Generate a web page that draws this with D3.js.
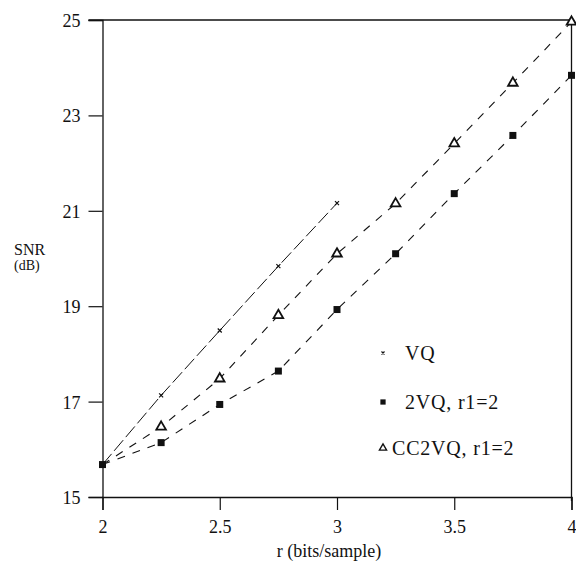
<!DOCTYPE html>
<html>
<head>
<meta charset="utf-8">
<script src="https://cdn.jsdelivr.net/npm/d3@7"></script>
<style>
  body { margin: 0; background: #fff; }
</style>
</head>
<body>
<div id="chart-container"></div>
<script>
// data
const rVQ = [2, 2.25, 2.5, 2.75, 3];
const snrVQ = [15.68, 17.13, 18.49, 19.84, 21.16];
const rTwoStage = [2, 2.25, 2.5, 2.75, 3, 3.25, 3.5, 3.75, 4];
const snr2VQ = [15.68, 16.14, 16.94, 17.64, 18.93, 20.10, 21.36, 22.58, 23.84];
const snrCC2VQ = [15.68, 16.47, 17.48, 18.81, 20.10, 21.15, 22.41, 23.68, 24.96];
const xTicks = [2, 2.5, 3, 3.5, 4];
const yTicks = [15, 17, 19, 21, 23, 25];
const legendLabels = ["VQ", "2VQ, r1=2", "CC2VQ, r1=2"];

const width = 576, height = 566;
const marginLeft = 102.5, marginRight = 4.5, marginTop = 20, marginBottom = 69;
const graphWidth = width - marginLeft - marginRight;
const graphHeight = height - marginTop - marginBottom;
const font = "'Liberation Serif', 'DejaVu Serif', serif";
const ink = "#111";

var svg = d3.select("#chart-container")
  .append("svg")
  .attr("width", width)
  .attr("height", height)
  .append("g")
  .attr("transform", "translate(" + marginLeft + "," + marginTop + ")");

var x = d3.scaleLinear().domain([2, 4]).range([0, graphWidth]);
var y = d3.scaleLinear().domain([15, 25]).range([graphHeight, 0]);

// frame (top + right)
svg.append("line").attr("x1", -14).attr("x2", graphWidth).attr("y1", 0).attr("y2", 0)
  .attr("stroke", ink).attr("stroke-width", 1.3);
svg.append("line").attr("x1", graphWidth).attr("x2", graphWidth).attr("y1", 0).attr("y2", graphHeight + 4)
  .attr("stroke", ink).attr("stroke-width", 1.3);

// axes
var xAxis = svg.append("g")
  .attr("transform", "translate(0," + graphHeight + ")")
  .call(d3.axisBottom(x).tickValues(xTicks).tickSize(13).tickPadding(10).tickFormat(d3.format("")));
var yAxis = svg.append("g")
  .call(d3.axisLeft(y).tickValues(yTicks).tickSize(14).tickPadding(8).tickFormat(d3.format("d")));

[xAxis, yAxis].forEach(a => {
  a.select(".domain").attr("stroke", ink).attr("stroke-width", 1.3);
  a.selectAll(".tick line").attr("stroke", ink).attr("stroke-width", 1.2);
  a.selectAll("text")
    .style("font-family", font)
    .style("font-size", "18px")
    .attr("fill", ink);
});
yAxis.selectAll("text").attr("dy", "0.36em");

// axis titles
svg.append("text")
  .attr("x", graphWidth / 2 - 8)
  .attr("y", graphHeight + 60)
  .style("font-family", font)
  .style("font-size", "18px")
  .style("text-anchor", "middle")
  .attr("fill", ink)
  .text("r (bits/sample)");

svg.append("text")
  .attr("x", 14 - marginLeft)
  .attr("y", 255 - marginTop)
  .style("font-family", font)
  .style("font-size", "16px")
  .attr("fill", ink)
  .text("SNR");
svg.append("text")
  .attr("x", 14 - marginLeft)
  .attr("y", 270 - marginTop)
  .style("font-family", font)
  .style("font-size", "14px")
  .attr("fill", ink)
  .text("(dB)");

// curves
var line = d3.line()
  .x(d => x(d[0]))
  .y(d => y(d[1]));

const vqPts = rVQ.map((r, i) => [r, snrVQ[i]]);
const twoPts = rTwoStage.map((r, i) => [r, snr2VQ[i]]);
const ccPts = rTwoStage.map((r, i) => [r, snrCC2VQ[i]]);

svg.append("path").datum(vqPts)
  .attr("d", line)
  .attr("fill", "none")
  .attr("stroke", ink)
  .attr("stroke-width", 1)
  .attr("stroke-dasharray", "14,4");

svg.append("path").datum(twoPts)
  .attr("d", line)
  .attr("fill", "none")
  .attr("stroke", ink)
  .attr("stroke-width", 1.1)
  .attr("stroke-dasharray", "8,8");

svg.append("path").datum(ccPts)
  .attr("d", line)
  .attr("fill", "none")
  .attr("stroke", ink)
  .attr("stroke-width", 1.1)
  .attr("stroke-dasharray", "8,8");

// markers (s = scale, legend ones are smaller)
function vqMark(g, s) {
  const k = 2 * s;
  g.append("path").attr("d", `M${-k},${-k}L${k},${k}M${k},${-k}L${-k},${k}`)
    .attr("stroke", ink).attr("stroke-width", 1.2);
}
function squareMark(g, s) {
  const k = 3.5 * s;
  g.append("rect").attr("x", -k).attr("y", -k).attr("width", 2 * k).attr("height", 2 * k).attr("fill", ink);
}
function triMark(g, s) {
  g.append("path").attr("d", d3.symbol().type(d3.symbolTriangle).size(40 * s * s))
    .attr("fill", "#fff").attr("stroke", ink).attr("stroke-width", 1.8 * s);
}

svg.selectAll(".vq").data(vqPts.slice(1)).enter().append("g")
  .attr("class", "vq")
  .attr("transform", d => `translate(${x(d[0])},${y(d[1])})`)
  .each(function() { vqMark(d3.select(this), 1); });

svg.selectAll(".cc").data(ccPts.slice(1)).enter().append("g")
  .attr("class", "cc")
  .attr("transform", d => `translate(${x(d[0])},${y(d[1])})`)
  .each(function() { triMark(d3.select(this), 1); });

svg.selectAll(".sq").data(twoPts).enter().append("g")
  .attr("class", "sq")
  .attr("transform", d => `translate(${x(d[0])},${y(d[1])})`)
  .each(function() { squareMark(d3.select(this), 1); });

// legend
const legendY = [353, 402, 448];
const legendTextX = [22, 22, 9];
const markFns = [vqMark, squareMark, triMark];
var legend = svg.selectAll(".legend")
  .data(legendLabels)
  .enter()
  .append("g")
  .attr("class", "legend")
  .attr("transform", (d, i) => `translate(${383 - marginLeft},${legendY[i] - marginTop})`);

legend.each(function(d, i) { markFns[i](d3.select(this), 0.75); });

legend.append("text")
  .attr("x", (d, i) => legendTextX[i])
  .attr("dy", "0.35em")
  .style("font-family", font)
  .style("font-size", "20px")
  .style("letter-spacing", "0.8px")
  .attr("fill", ink)
  .text(d => d);
</script>
</body>
</html>
